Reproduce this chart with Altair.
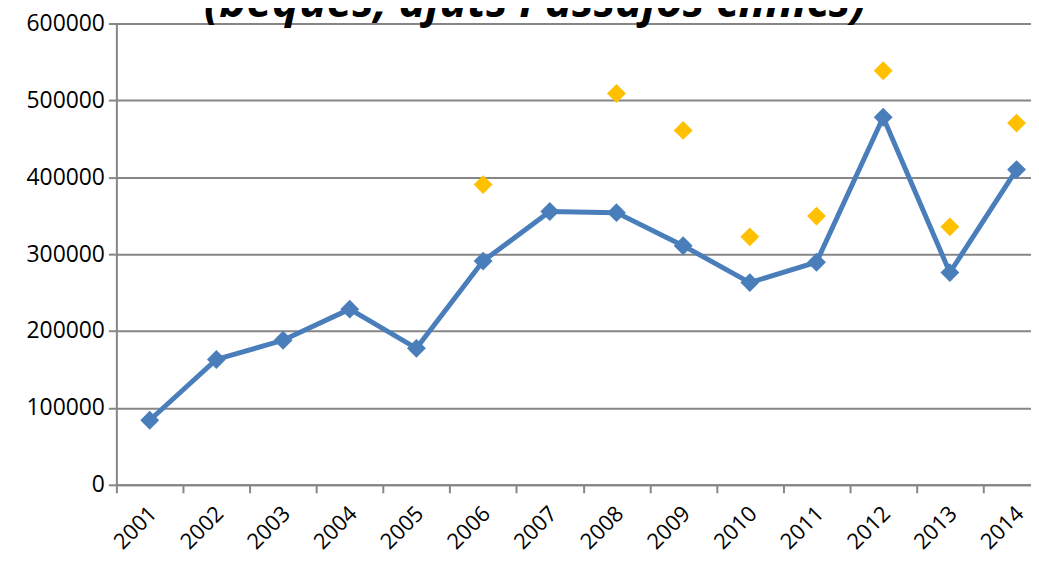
import altair as alt
import pandas as pd

years = ["2001", "2002", "2003", "2004", "2005", "2006", "2007",
         "2008", "2009", "2010", "2011", "2012", "2013", "2014"]
blue_values = [84000, 163000, 188000, 228500, 177500, 291000, 355500,
               354000, 311000, 263000, 289500, 478000, 276000, 410000]
yellow_years = ["2006", "2008", "2009", "2010", "2011", "2012", "2013", "2014"]
yellow_values = [390500, 509000, 461000, 322500, 349500, 538500, 335500, 470500]
y_ticks = [0, 100000, 200000, 300000, 400000, 500000, 600000]
title_text = ["(beques, ajuts i assajos clínics)"]

blue_df = pd.DataFrame({"year": years, "value": blue_values})
yellow_df = pd.DataFrame({"year": yellow_years, "value": yellow_values})
title_df = pd.DataFrame({"t": title_text})

GRAY = "#868686"
BLUE = "#4A7EBB"
YELLOW = "#FFC000"
FONT = "Open Sans"

x_enc = alt.X(
    "year:O",
    sort=years,
    bandPosition=0.5,
    scale=alt.Scale(type="band", domain=years, paddingInner=0, paddingOuter=0,
                    range=[0, 939]),
    axis=alt.Axis(
        title=None, labelAngle=-45, labelFont=FONT, labelFontSize=22,
        labelColor="black", tickColor=GRAY, tickWidth=2, tickSize=8,
        domainColor=GRAY, domainWidth=2, tickBand="extent", labelPadding=10,
        labelOffset=-4, grid=False,
    ),
)
y_enc = alt.Y(
    "value:Q",
    scale=alt.Scale(domain=[0, 600000], nice=False),
    axis=alt.Axis(
        title=None, values=y_ticks, format="d", grid=True, gridColor=GRAY,
        gridWidth=2, domainColor=GRAY, domainWidth=2, tickColor=GRAY,
        tickWidth=2, tickSize=8, labelFont=FONT, labelFontSize=23,
        labelColor="black", labelPadding=4,
    ),
)

line = alt.Chart(blue_df).mark_line(color=BLUE, strokeWidth=5).encode(x=x_enc, y=y_enc)
blue_pts = alt.Chart(blue_df).mark_point(
    shape="diamond", filled=True, size=361, color=BLUE, opacity=1
).encode(x=x_enc, y=y_enc)
yellow_pts = alt.Chart(yellow_df).mark_point(
    shape="diamond", filled=True, size=361, color=YELLOW, opacity=1
).encode(x=x_enc, y=y_enc)
title_mark = alt.Chart(title_df).mark_text(
    font=FONT, fontStyle="italic", fontWeight="bold", fontSize=46,
    align="center", baseline="alphabetic", color="black",
).encode(text="t:N", x=alt.value(421), y=alt.value(-7))

chart = alt.layer(title_mark, line, blue_pts, yellow_pts).properties(
    width=920,
    height=464,
    autosize=alt.AutoSizeParams(type="none"),
    padding={"left": 109, "top": 14, "right": 0, "bottom": 68},
).configure_view(stroke=None).configure(background="white")

chart.save("out.html", embed_options={"renderer": "svg", "actions": False})
